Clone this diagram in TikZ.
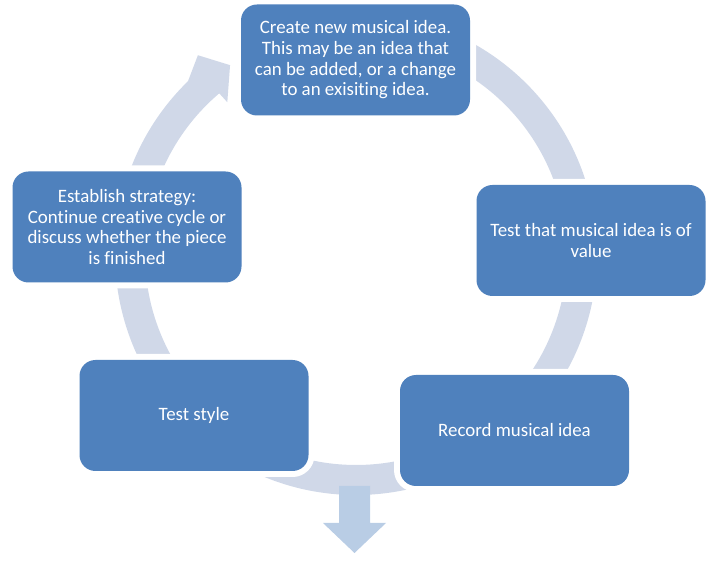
\documentclass[tikz,border=0pt]{standalone}
\usepackage{fontspec}
\setmainfont{Carlito}[Ligatures={NoCommon}]
\usetikzlibrary{calc}
\definecolor{boxblue}{HTML}{4F81BD}
\definecolor{ringc}{HTML}{D0D8E8}
\definecolor{downc}{HTML}{B9CDE5}
\begin{document}
\begin{tikzpicture}[x=1pt,y=1pt,
  stepbox/.style={rectangle, rounded corners=16pt, fill=boxblue,
    minimum width=229pt, minimum height=111pt, inner sep=0pt,
    text=white, align=center, font=\fontsize{18.9}{20.7}\selectfont,
    preaction={draw=white, line width=12pt}},
  ringshape/.style={fill=ringc},
  downshape/.style={fill=downc}]
\useasboundingbox (0,0) rectangle (710,560);
\coordinate (C) at (356,306);
% cycle ring with the visible arrow head
\fill[ringshape] ($(C)+(130.4:211)$) arc[start angle=130.4, end angle=460, radius=211]
  -- ($(C)+(460:241)$) arc[start angle=460, end angle=134.2, radius=241]
  -- ($(C)+(128.5:254)$) -- ($(C)+(123.7:227)$) -- ($(C)+(130.3:199)$) -- cycle;
% down arrow
\fill[downshape] (339,74) -- (370,74) -- (370,37) -- (386,37) -- (354.5,7)
  -- (323,37) -- (339,37) -- cycle;
% boxes
\node[stepbox] (create) at (355.5,500) {\raisebox{-2pt}{\parbox{220pt}{\centering Create new musical idea.\\This may be an idea that\\can be added, or a change\\to an exisiting idea.}}};
\node[stepbox] (value) at (591,319.5) {Test that musical idea is of\\value};
\node[stepbox] (record) at (514.5,129.5) {Record musical idea};
\node[stepbox] (style) at (194,144.5) {Test style};
\node[stepbox] (strategy) at (127,333) {Establish strategy:\\Continue creative cycle or\\discuss whether the piece\\is finished};
\end{tikzpicture}
\end{document}
